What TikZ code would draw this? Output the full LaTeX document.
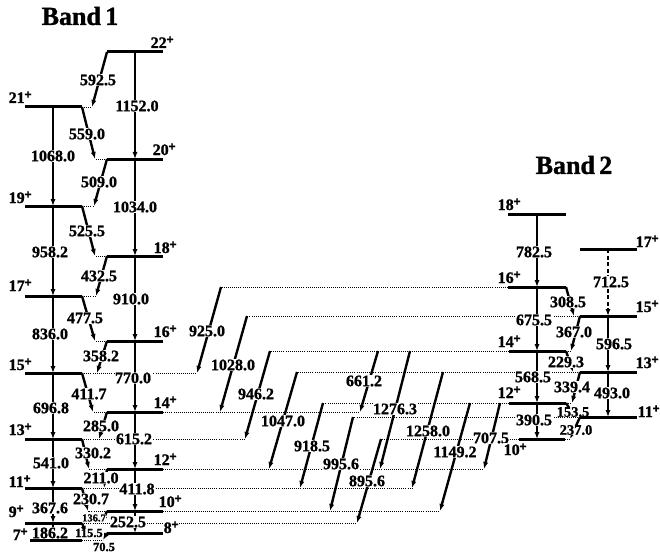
\documentclass[tikz,border=0pt]{standalone}
\usepackage{fontspec}
\setmainfont{Liberation Serif}[BoldFeatures={FakeBold=1.2}]
\newfontfamily\plusfont{Liberation Sans}[BoldFeatures={FakeBold=1.5}]
\usetikzlibrary{arrows.meta}
% spin-parity label: number with a raised bold plus
\newcommand\spinp[1]{#1\kern-0.2pt\raisebox{4.6pt}{\plusfont\bfseries\fontsize{12}{12}\selectfont +}}
\begin{document}
\begin{tikzpicture}[x=1pt,y=-1pt,
  lvl/.style={line width=3pt},
  tr/.style={line width=2.4pt,-{Latex[length=7pt,width=5.2pt]}},
  dt/.style={line width=0.9pt,dash pattern=on 0.9pt off 1.2pt},
  lab/.style={fill=white,inner sep=0.5pt,font=\bfseries\fontsize{16}{16}\selectfont},
  slab/.style={lab,inner sep=0.2pt,font=\bfseries\fontsize{12.5}{12.5}\selectfont},
  mlab/.style={lab,inner sep=0.2pt,font=\bfseries\fontsize{14.5}{14.5}\selectfont},
  spn/.style={fill=white,inner sep=0.5pt,anchor=base west,font=\bfseries\fontsize{16}{16}\selectfont},
  ttl/.style={font=\bfseries\fontsize{26}{26}\selectfont}]
\useasboundingbox (0,0) rectangle (660,556);

% ---- level end points: name / y / left x / right x
\foreach \n/\y/\a/\b in {
  a22/52/107/163, a21/107/25/82, a20/159/107/163, a19/206/25/82,
  a18/256/107/163, a17/296/25/82, a16/341/107/163, a15/373/25/82,
  a14/412/107/163, a13/439/25/82, a12/469/107/163, a11/488/25/82,
  a10/511/107/163, a9/523/25/82, a8/533/107/163, a7/540/30/82,
  b18/214/508/566, b17/249/580/637, b16/287/508/566, b15/316/580/637,
  b14/351/509/566, b13/372/580/637, b12/403/509/566, b11/417/580/637,
  b10/439/519/565}
  {\coordinate (L\n) at (\a,\y); \coordinate (R\n) at (\b,\y);}

% ---- dotted guide lines between the two bands
\draw[dt] (Lb16) -- (221,0 |- Lb16);
\draw[dt] (Lb15) -- (247,0 |- Lb15);
\draw[dt] (Lb14) -- (270,0 |- Lb14);
\draw[dt] (Lb13) -- (297,0 |- Lb13);
\draw[dt] (Lb12) -- (323,0 |- Lb12);
\draw[dt] (Lb11) -- (353,0 |- Lb11);
\draw[dt] (Lb10) -- (381,0 |- Lb10);
\draw[dt] (Ra15) -- (197,0 |- Ra15);
\draw[dt] (Ra14) -- (360,0 |- Ra14);
\draw[dt] (Ra13) -- (245,0 |- Ra13);
\draw[dt] (Ra12) -- (484,0 |- Ra12);
\draw[dt] (Ra11) -- (412,0 |- Ra11);
\draw[dt] (Ra10) -- (440,0 |- Ra10);
\draw[dt] (Ra9) -- (357,0 |- Ra9);
% short dotted stubs of the in-band cascades
\draw[dt] (Ra21) -- (92,0 |- Ra21);
\draw[dt] (La20) -- (95,0 |- La20);
\draw[dt] (Ra19) -- (94,0 |- Ra19);
\draw[dt] (La18) -- (95,0 |- La18);
\draw[dt] (Ra17) -- (96,0 |- Ra17);
\draw[dt] (La16) -- (95,0 |- La16);
\draw[dt] (La14) -- (93,0 |- La14);
\draw[dt] (La12) -- (89,0 |- La12);
\draw[dt] (La10) -- (88,0 |- La10);
\draw[dt] (La8) -- (86,0 |- La8);
\draw[dt] (Ra7) -- (103,0 |- Ra7);
\draw[dt] (Rb14) -- (571,0 |- Rb14);
\draw[dt] (Rb12) -- (572,0 |- Rb12);
\draw[dt] (Rb10) -- (570,0 |- Rb10);

% ---- stretched E2 cascades
\foreach \p/\q in {a21/a19,a19/a17,a17/a15,a15/a13,a13/a11,a11/a9,a9/a7}
  \draw[tr] (53,0 |- L\p) -- (53,0 |- L\q);
\foreach \p/\q in {a22/a20,a20/a18,a18/a16,a16/a14,a14/a12,a12/a10,a10/a8}
  \draw[tr] (135,0 |- L\p) -- (135,0 |- L\q);
\foreach \p/\q in {b18/b16,b16/b14,b14/b12,b12/b10}
  \draw[tr] (537,0 |- L\p) -- (537,0 |- L\q);
\draw[tr,dash pattern=on 4pt off 2.6pt] (608,0 |- Lb17) -- (608,0 |- Lb15);
\foreach \p/\q in {b15/b13,b13/b11}
  \draw[tr] (608,0 |- L\p) -- (608,0 |- L\q);

% ---- M1 zig-zag, band 1
\draw[tr] (La22) -- (92,0 |- Ra21);
\draw[tr] (Ra21) -- (95,0 |- La20);
\draw[tr] (La20) -- (94,0 |- Ra19);
\draw[tr] (Ra19) -- (95,0 |- La18);
\draw[tr] (La18) -- (96,0 |- Ra17);
\draw[tr] (Ra17) -- (95,0 |- La16);
\draw[tr] (La16) -- (97,0 |- Ra15);
\draw[tr] (Ra15) -- (93,0 |- La14);
\draw[tr] (La14) -- (99,0 |- Ra13);
\draw[tr] (Ra13) -- (89,0 |- La12);
\draw[tr] (La12) -- (104,0 |- Ra11);
\draw[tr] (Ra11) -- (88,0 |- La10);
\draw[tr] (La10) -- (102,0 |- Ra9);
\draw[tr] (Ra9) -- (86,0 |- La8);
\draw[tr] (La8) -- (103,0 |- Ra7);
% ---- M1 zig-zag, band 2
\draw[tr] (Rb16) -- (574,0 |- Lb15);
\draw[tr] (Lb15) -- (571,0 |- Rb14);
\draw[tr] (Rb14) -- (573,0 |- Lb13);
\draw[tr] (Lb13) -- (572,0 |- Rb12);
\draw[tr] (Rb12) -- (575,0 |- Lb11);
\draw[tr] (Lb11) -- (570,0 |- Rb10);

% ---- linking transitions, band 2 -> band 1
\draw[tr] (221,0 |- Lb16) -- (197,0 |- Ra15);
\draw[tr] (247,0 |- Lb15) -- (220,0 |- Ra14);
\draw[tr] (270,0 |- Lb14) -- (245,0 |- Ra13);
\draw[tr] (297,0 |- Lb13) -- (269,0 |- Ra12);
\draw[tr] (378,0 |- Lb14) -- (360,0 |- Ra14);
\draw[tr] (323,0 |- Lb12) -- (300,0 |- Ra11);
\draw[tr] (410,0 |- Lb14) -- (380,0 |- Ra12);
\draw[tr] (443,0 |- Lb13) -- (412,0 |- Ra11);
\draw[tr] (470,0 |- Lb12) -- (440,0 |- Ra10);
\draw[tr] (353,0 |- Lb11) -- (330,0 |- Ra10);
\draw[tr] (381,0 |- Lb10) -- (357,0 |- Ra9);
\draw[tr] (500,0 |- Lb12) -- (484,0 |- Ra12);

% ---- energy labels, band 1
\node[lab] at (137,106) {1152.0};
\node[lab] at (53,156) {1068.0};
\node[lab] at (135,207) {1034.0};
\node[lab] at (50,252) {958.2};
\node[lab] at (131,299) {910.0};
\node[lab] at (50,334) {836.0};
\node[lab] at (133,378) {770.0};
\node[lab] at (51,408) {696.8};
\node[lab] at (134,439) {615.2};
\node[lab] at (51,463) {541.0};
\node[lab] at (137,489) {411.8};
\node[lab] at (50,508) {367.6};
\node[lab] at (128,522) {252.5};
\node[lab] at (50,533) {186.2};
\node[lab] at (98,80) {592.5};
\node[lab] at (87,134) {559.0};
\node[lab] at (99,182) {509.0};
\node[lab] at (87,231) {525.5};
\node[lab] at (99,276) {432.5};
\node[lab] at (85,318) {477.5};
\node[lab] at (101,356) {358.2};
\node[lab] at (89,394) {411.7};
\node[lab] at (101,426) {285.0};
\node[lab] at (93,453) {330.2};
\node[lab] at (101,478) {211.0};
\node[lab] at (91,499) {230.7};
\node[slab,font=\bfseries\fontsize{10.5}{10.5}\selectfont] at (94,518) {136.7};
\node[slab] at (89,533) {115.5};
\node[slab] at (104,547) {70.5};
% ---- energy labels, linking transitions
\node[lab] at (207,331) {925.0};
\node[lab] at (233,365) {1028.0};
\node[lab] at (256,394) {946.2};
\node[lab] at (283,421) {1047.0};
\node[lab] at (364,381) {661.2};
\node[lab] at (312,446) {918.5};
\node[lab] at (395,409) {1276.3};
\node[lab] at (428,431) {1258.0};
\node[lab] at (455,452) {1149.2};
\node[lab] at (341,464) {995.6};
\node[lab] at (367,481) {895.6};
\node[lab] at (491,438) {707.5};
% ---- energy labels, band 2
\node[lab] at (534,252) {782.5};
\node[lab] at (611,282) {712.5};
\node[lab] at (534,320) {675.5};
\node[lab] at (614,344) {596.5};
\node[lab] at (533,377) {568.5};
\node[lab] at (612,393) {493.0};
\node[lab] at (534,420) {390.5};
\node[lab] at (568,302) {308.5};
\node[lab] at (574,332) {367.0};
\node[lab] at (566,362) {229.3};
\node[lab] at (572,387) {339.4};
\node[mlab] at (573,412) {153.5};
\node[mlab] at (576,430) {237.0};

% ---- spin labels
\node[spn] at (150,48) {\spinp{22}};
\node[spn] at (8,103) {\spinp{21}};
\node[spn] at (152,155) {\spinp{20}};
\node[spn] at (8,203) {\spinp{19}};
\node[spn] at (153,253) {\spinp{18}};
\node[spn] at (8,291) {\spinp{17}};
\node[spn] at (153,337) {\spinp{16}};
\node[spn] at (8,370) {\spinp{15}};
\node[spn] at (153,408) {\spinp{14}};
\node[spn] at (8,435) {\spinp{13}};
\node[spn] at (153,465) {\spinp{12}};
\node[spn] at (8,487) {\spinp{11}};
\node[spn] at (158,507) {\spinp{10}};
\node[spn] at (8,517) {\spinp{9}};
\node[spn] at (163,533) {\spinp{8}};
\node[spn] at (12,540) {\spinp{7}};
\node[spn] at (497,210) {\spinp{18}};
\node[spn] at (635,247) {\spinp{17}};
\node[spn] at (497,283) {\spinp{16}};
\node[spn] at (635,312) {\spinp{15}};
\node[spn] at (497,347) {\spinp{14}};
\node[spn] at (635,368) {\spinp{13}};
\node[spn] at (497,398) {\spinp{12}};
\node[spn] at (637,417) {\spinp{11}};
\node[spn] at (503,455) {\spinp{10}};

% ---- band titles
\node[ttl] (band1) at (80,16) {Band\,1};
\node[ttl] (band2) at (574,165) {Band\,2};

% ---- levels on top
\foreach \n in {a22,a21,a20,a19,a18,a17,a16,a15,a14,a13,a12,a11,a10,a9,a8,a7,
                b18,b17,b16,b15,b14,b13,b12,b11,b10}
  \draw[lvl] (L\n) -- (R\n);
\end{tikzpicture}
\end{document}
